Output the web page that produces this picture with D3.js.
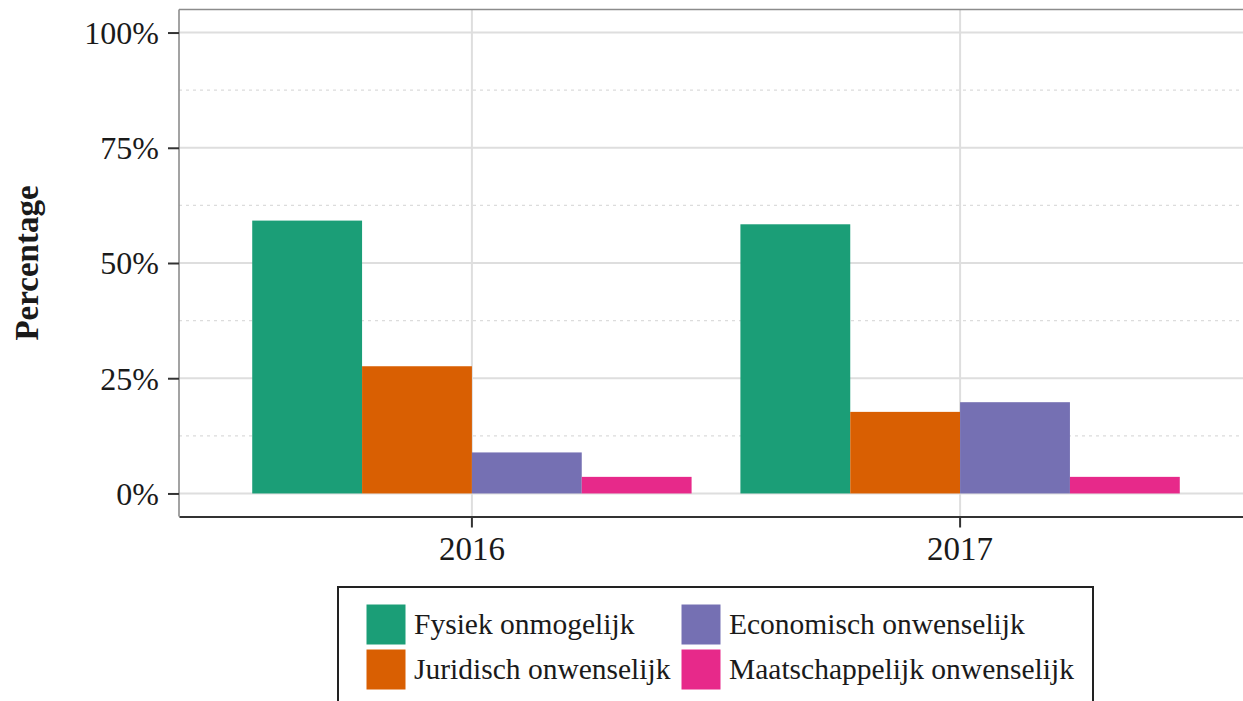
<!DOCTYPE html>
<html><head><meta charset="utf-8">
<script src="https://cdn.jsdelivr.net/npm/d3@7"></script>
<style>
html,body{margin:0;padding:0;background:#fff;overflow:hidden;}
text{font-family:"Liberation Serif","Times New Roman",serif;fill:#1a1a1a;}
</style></head>
<body>
<svg id="chart" width="1243" height="701"></svg>
<script>
const years = ["2016", "2017"];
const seriesNames = ["Fysiek onmogelijk", "Juridisch onwenselijk", "Economisch onwenselijk", "Maatschappelijk onwenselijk"];
const fysiek = [0.592, 0.584];
const juridisch = [0.276, 0.177];
const economisch = [0.089, 0.198];
const maatschappelijk = [0.036, 0.036];
const colors = ["#1B9E77", "#D95F02", "#7570B3", "#E7298A"];
const yTicks = [0, 0.25, 0.5, 0.75, 1];
const yMinor = [0.125, 0.375, 0.625, 0.875];

const values = [fysiek, juridisch, economisch, maatschappelijk];
const data = [];
years.forEach((y, i) => seriesNames.forEach((s, j) => data.push({year: y, series: s, value: values[j][i], color: colors[j]})));

const svg = d3.select("#chart");
const L = 179, R = 1253, T = 9.5, B = 516.5;

const x0 = d3.scaleBand().domain(years).range([L, R]).paddingInner(0.1).paddingOuter(0.15);
const x1 = d3.scaleBand().domain(seriesNames).range([0, x0.bandwidth()]).padding(0);
const y = d3.scaleLinear().domain([-0.05, 1.05]).range([B, T]);

// grid
const grid = svg.append("g");
grid.selectAll(".minor").data(yMinor).join("line")
  .attr("x1", L).attr("x2", R).attr("y1", d => y(d)).attr("y2", d => y(d))
  .attr("stroke", "#dcdcdc").attr("stroke-width", 1.2).attr("stroke-dasharray", "3,4");
grid.selectAll(".major").data(yTicks).join("line")
  .attr("x1", L).attr("x2", R).attr("y1", d => y(d)).attr("y2", d => y(d))
  .attr("stroke", "#dedede").attr("stroke-width", 2);
grid.selectAll(".vmajor").data(years).join("line")
  .attr("x1", d => x0(d) + x0.bandwidth() / 2).attr("x2", d => x0(d) + x0.bandwidth() / 2)
  .attr("y1", T).attr("y2", B)
  .attr("stroke", "#dedede").attr("stroke-width", 2);

// bars
svg.append("g").selectAll("rect").data(data).join("rect")
  .attr("x", d => x0(d.year) + x1(d.series))
  .attr("width", x1.bandwidth())
  .attr("y", d => y(d.value))
  .attr("height", d => y(0) - y(d.value))
  .attr("fill", d => d.color);

// panel border
svg.append("line").attr("x1", L).attr("x2", L).attr("y1", T).attr("y2", B).attr("stroke", "#8c8c8c").attr("stroke-width", 1.6);
svg.append("line").attr("x1", L).attr("x2", R).attr("y1", T).attr("y2", T).attr("stroke", "#8c8c8c").attr("stroke-width", 1.6);

// y axis
const yAxis = d3.axisLeft(y).tickValues(yTicks).tickFormat(d3.format(".0%")).tickSize(11).tickPadding(9);
const ya = svg.append("g").attr("transform", `translate(${L},0)`).call(yAxis);
ya.select(".domain").remove();
ya.selectAll(".tick line").attr("stroke", "#333").attr("stroke-width", 2);
ya.selectAll(".tick text").style("font-size", "32px").attr("fill", "#1a1a1a").attr("dy", "0.34em");

// x axis
const xAxis = d3.axisBottom(x0).tickSize(11).tickPadding(8).tickSizeOuter(0);
const xa = svg.append("g").attr("transform", `translate(0,${B})`).call(xAxis);
xa.select(".domain").attr("stroke", "#333").attr("stroke-width", 2.2);
xa.selectAll(".tick line").attr("stroke", "#333").attr("stroke-width", 2);
xa.selectAll(".tick text").style("font-size", "33px").attr("fill", "#1a1a1a").attr("dy", "0.75em");

// y title
svg.append("text").attr("transform", "translate(38,263) rotate(-90)")
  .attr("text-anchor", "middle").style("font-size", "33px").style("font-weight", "bold").text("Percentage");

// legend
const lg = svg.append("g");
lg.append("rect").attr("x", 338).attr("y", 587).attr("width", 755).attr("height", 130)
  .attr("fill", "#fff").attr("stroke", "#222").attr("stroke-width", 2);
const keyPos = [[366, 604], [366, 649], [681, 604], [681, 649]];
seriesNames.forEach((s, j) => {
  const [kx, ky] = keyPos[j];
  lg.append("rect").attr("x", kx).attr("y", ky).attr("width", 40).attr("height", 41)
    .attr("fill", colors[j]).attr("stroke", "#fff").attr("stroke-width", 1);
  lg.append("text").attr("x", kx + 48).attr("y", ky + 30).style("font-size", "29.5px").text(s);
});
</script>
</body></html>
